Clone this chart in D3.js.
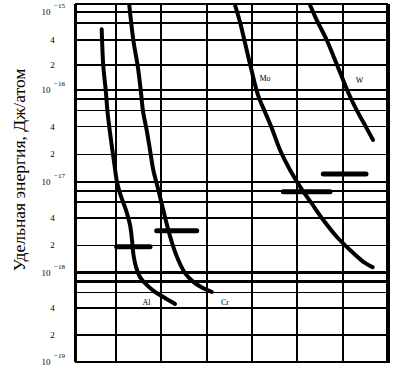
<!DOCTYPE html>
<html>
<head>
<meta charset="utf-8">
<script src="https://cdn.jsdelivr.net/npm/d3@7"></script>
<style>
  html, body { margin: 0; padding: 0; background: #fff; }
  svg { display: block; }
  text { font-family: "Liberation Serif", "DejaVu Serif", serif; fill: #000; }
</style>
</head>
<body>
<svg id="chart" width="405" height="371"></svg>
<script>
// vertical grid (horizontal axis has no labels), frame edges
const xGrid = [1, 2, 3, 4, 5, 6];
const xEdges = [0, 7];

// horizontal grid, log values
const yGrid = [2e-19, 4e-19, 6e-19, 8e-19, 1e-18,
               2e-18, 4e-18, 6e-18, 8e-18, 1e-17,
               2e-17, 4e-17, 6e-17, 8e-17, 1e-16,
               2e-16, 4e-16, 6e-16, 1e-15];
const yEdges = [1e-19, 1.24e-15];
const heavyGrid = [1e-18, 8e-19, 4e-18];
const boldGrid = [6e-16, 1e-15, 6e-18];

// tick labels
const decadeTicks = [1e-19, 1e-18, 1e-17, 1e-16, 1e-15];
const decadeExp = ["−19", "−18", "−17", "−16", "−15"];
const mantissaTicks = [2e-19, 4e-19, 2e-18, 4e-18, 2e-17, 4e-17, 2e-16, 4e-16];

// curves: [x, energy]
const alCurve = [[0.651, 5.2e-16], [0.690, 1.95e-16], [0.749, 1e-16], [0.798, 5.5e-17],
  [0.878, 2.86e-17], [0.963, 1.53e-17], [1.022, 1e-17], [1.099, 7.2e-18], [1.221, 4.9e-18],
  [1.309, 3.36e-18], [1.353, 2.29e-18], [1.386, 1.57e-18], [1.441, 1.16e-18], [1.529, 8.95e-19],
  [1.677, 7.3e-19], [1.860, 6.1e-19], [2.081, 5.2e-19], [2.302, 4.46e-19]];
const crCurve = [[1.293, 1.215e-15], [1.382, 4e-16], [1.481, 1.91e-16], [1.545, 1e-16],
  [1.602, 5.6e-17], [1.677, 3.67e-17], [1.750, 2.23e-17], [1.823, 1.35e-17], [1.933, 8.2e-18],
  [2.043, 4.9e-18], [2.154, 2.96e-18], [2.264, 1.93e-18], [2.374, 1.38e-18], [2.522, 9.9e-19],
  [2.705, 7.9e-19], [2.926, 6.7e-19], [3.111, 6.1e-19]];
const moCurve = [[3.625, 1.215e-15], [3.735, 6.35e-16], [3.857, 3.48e-16], [3.978, 1.84e-16],
  [4.133, 8.8e-17], [4.298, 5.6e-17], [4.435, 3.86e-17], [4.618, 2.23e-17], [4.839, 1.35e-17],
  [5.059, 8.9e-18], [5.317, 5.8e-18], [5.573, 3.81e-18], [5.869, 2.49e-18], [6.162, 1.78e-18],
  [6.456, 1.32e-18], [6.663, 1.15e-18]];
const wCurve = [[5.280, 1.215e-15], [5.428, 6.9e-16], [5.648, 4e-16], [5.831, 2.3e-16],
  [5.979, 1.45e-16], [6.162, 8.5e-17], [6.345, 5.6e-17], [6.531, 3.83e-17], [6.670, 2.86e-17]];

// horizontal bars: [x start, x end, energy]
const bars = [[1.015, 1.750, 1.93e-18], [1.898, 2.780, 2.90e-18],
              [4.691, 5.721, 7.8e-18], [5.573, 6.515, 1.22e-17]];

const curveNames = ["Al", "Cr", "Mo", "W"];
const labelX = [1.673, 3.405, 4.287, 6.372];
const labelY = [4.7e-19, 4.7e-19, 1.39e-16, 1.32e-16];

const svg = d3.select("#chart");

// horizontal position (grid units), log energy scale calibrated on the decades
const x = d3.scaleLinear().domain([0, 1, 7]).range([75, 116, 388]);
const y = d3.scaleLog()
  .domain([1e-19, 1e-18, 1e-17, 1e-16, 4e-16, 6e-16, 1e-15, 1.24e-15])
  .range([362, 272.7, 182, 90, 40, 23.3, 11.7, 4.3]);

const x0 = x(xEdges[0]), x1 = x(xEdges[1]);
const yb = y(yEdges[0]), yt = y(yEdges[1]);

// grid
const grid = svg.append("g").attr("stroke", "#000").attr("shape-rendering", "crispEdges");

grid.selectAll(".hgrid")
  .data(yGrid)
  .enter()
  .append("line")
  .attr("class", "hgrid")
  .attr("x1", x0).attr("x2", x1)
  .attr("y1", d => y(d)).attr("y2", d => y(d))
  .attr("stroke-width", d => heavyGrid.includes(d) ? 2.5 : boldGrid.includes(d) ? 2 : 1.5);

grid.selectAll(".vgrid")
  .data(xGrid)
  .enter()
  .append("line")
  .attr("class", "vgrid")
  .attr("x1", d => x(d)).attr("x2", d => x(d))
  .attr("y1", yt).attr("y2", yb)
  .attr("stroke-width", 2);

// frame
grid.append("line").attr("x1", x0).attr("x2", x1).attr("y1", yt).attr("y2", yt).attr("stroke-width", 2);
grid.append("line").attr("x1", x0).attr("x2", x1).attr("y1", yb).attr("y2", yb).attr("stroke-width", 2);
grid.append("line").attr("x1", x0).attr("x2", x0).attr("y1", yt).attr("y2", yb).attr("stroke-width", 3);
grid.append("line").attr("x1", x1).attr("x2", x1).attr("y1", yt).attr("y2", yb + 1).attr("stroke-width", 4);

// tick labels
const ticks = svg.append("g").style("font-size", "9px");

decadeTicks.forEach((v, i) => {
  ticks.append("text")
    .attr("x", 50.5)
    .attr("y", y(v) + 3)
    .attr("text-anchor", "end")
    .text("10");
  ticks.append("text")
    .attr("x", 54)
    .attr("y", y(v) - 4)
    .style("font-size", "7px")
    .text(decadeExp[i]);
});

ticks.selectAll(".mant")
  .data(mantissaTicks)
  .enter()
  .append("text")
  .attr("class", "mant")
  .attr("x", 52.5)
  .attr("y", d => y(d) + 3)
  .attr("text-anchor", "middle")
  .text(d => Math.round(d / Math.pow(10, Math.floor(Math.log10(d) + 1e-9))));

// y axis title
svg.append("text")
  .attr("transform", `translate(25, 170) rotate(-90)`)
  .attr("text-anchor", "middle")
  .style("font-size", "17.5px")
  .text("Удельная энергия, Дж/атом");

// curves
const line = d3.line()
  .x(d => x(d[0]))
  .y(d => y(d[1]))
  .curve(d3.curveCatmullRom.alpha(0.5));

svg.selectAll(".curve")
  .data([alCurve, crCurve, moCurve, wCurve])
  .enter()
  .append("path")
  .attr("class", "curve")
  .attr("d", line)
  .attr("fill", "none")
  .attr("stroke", "#000")
  .attr("stroke-width", 4)
  .attr("stroke-linecap", "round")
  .attr("stroke-linejoin", "round");

// bars
svg.selectAll(".bar")
  .data(bars)
  .enter()
  .append("line")
  .attr("class", "bar")
  .attr("x1", d => x(d[0]))
  .attr("x2", d => x(d[1]))
  .attr("y1", d => y(d[2]))
  .attr("y2", d => y(d[2]))
  .attr("stroke", "#000")
  .attr("stroke-width", 5)
  .attr("stroke-linecap", "round");

// curve labels
svg.selectAll(".clabel")
  .data(curveNames)
  .enter()
  .append("text")
  .attr("class", "clabel")
  .attr("x", (d, i) => x(labelX[i]))
  .attr("y", (d, i) => y(labelY[i]))
  .attr("dy", "0.35em")
  .attr("text-anchor", "middle")
  .style("font-size", "8px")
  .text(d => d);
</script>
</body>
</html>
